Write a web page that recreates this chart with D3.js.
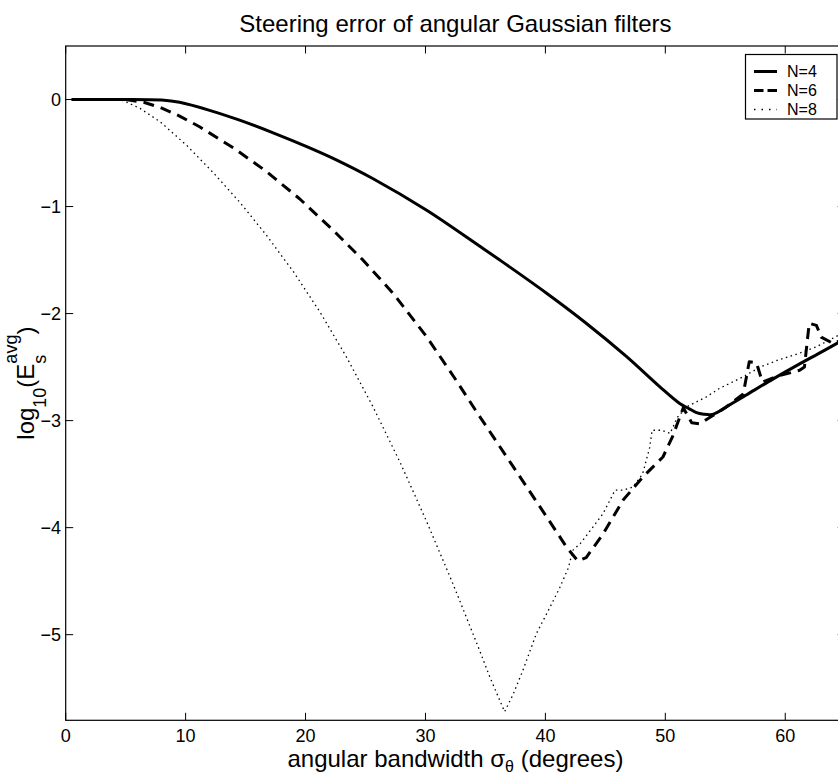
<!DOCTYPE html>
<html><head><meta charset="utf-8">
<script src="https://cdn.jsdelivr.net/npm/d3@7"></script>
<style>
body{margin:0;background:#fff;}
svg{display:block;}
text{font-family:"Liberation Sans",Arial,Helvetica,sans-serif;fill:#000;}
</style>
</head><body>
<svg id="chart" width="838" height="777"></svg>
<script>
// ---- data ----
const titleText = "Steering error of angular Gaussian filters";
const xTicks = [0, 10, 20, 30, 40, 50, 60];
const yTicks = [-5, -4, -3, -2, -1, 0];
const seriesNames = ["N=4", "N=6", "N=8"];

const xN4 = [0.5, 4, 8, 9.5, 12, 14.5, 17.3, 20.1, 22.3, 25.6, 30.1, 34.5, 36.2, 40.1, 43.4, 46.75, 49.5, 51.2, 52.0, 52.6, 53.2, 53.8, 54.3, 55.1, 56.75, 59.0, 61.2, 63.0, 65];
const yN4 = [0, 0, -0.005, -0.026, -0.101, -0.193, -0.311, -0.440, -0.550, -0.738, -1.035, -1.369, -1.50, -1.81, -2.09, -2.40, -2.68, -2.84, -2.89, -2.925, -2.94, -2.945, -2.925, -2.87, -2.76, -2.61, -2.47, -2.36, -2.235];

const xN6 = [0.5, 5.0, 6.5, 7.9, 9.5, 11.2, 14.0, 16.7, 19.5, 22.3, 24.8, 27.3, 30.1, 32.4, 34.3, 37.3, 40.1, 41.75, 42.7, 43.4, 44.8, 46.5, 48.1, 49.8, 50.6, 51.2, 51.5, 52.2, 52.9, 53.7, 55.0, 56.5, 57.0, 57.6, 58.1, 59.5, 61.2, 61.6, 62.0, 62.6, 63.0, 64.0, 65];
const yN6 = [0, 0, -0.026, -0.075, -0.155, -0.257, -0.453, -0.669, -0.927, -1.221, -1.501, -1.811, -2.217, -2.597, -2.924, -3.428, -3.898, -4.18, -4.31, -4.28, -4.06, -3.74, -3.53, -3.34, -3.15, -2.97, -2.88, -3.02, -3.03, -2.97, -2.88, -2.75, -2.45, -2.46, -2.64, -2.58, -2.53, -2.50, -2.09, -2.11, -2.22, -2.28, -2.23];

const xN8 = [0.5, 3.5, 4.8, 6.2, 7.9, 10.1, 12.3, 14.5, 16.7, 19.0, 21.2, 23.4, 25.6, 27.9, 30.1, 32.3, 34.4, 35.4, 36.6, 37.3, 38.1, 39.25, 40.4, 41.2, 41.9, 42.3, 42.9, 44.0, 44.8, 45.4, 45.8, 46.5, 47.3, 48.1, 48.7, 48.9, 49.7, 50.4, 51.0, 51.8, 53.4, 54.5, 56.5, 57.9, 59.5, 61.2, 62.6, 65];
const yN8 = [0, 0, -0.01, -0.083, -0.21, -0.43, -0.683, -0.958, -1.262, -1.611, -1.985, -2.403, -2.865, -3.394, -3.944, -4.527, -5.115, -5.405, -5.72, -5.56, -5.34, -4.99, -4.74, -4.56, -4.38, -4.21, -4.15, -3.99, -3.87, -3.74, -3.65, -3.65, -3.62, -3.50, -3.25, -3.09, -3.09, -3.12, -2.97, -2.87, -2.78, -2.70, -2.59, -2.50, -2.43, -2.37, -2.31, -2.17];

// ---- layout ----
const W = 838, H = 777;
const L = 65.7, R = 845.2, T = 46, B = 720.3;
const svg = d3.select("#chart");
svg.append("rect").attr("width", W).attr("height", H).attr("fill", "#fff");

const x = d3.scaleLinear().domain([0, 65]).range([L, R]);
const y = d3.scaleLinear().domain([-5.8, 0.5]).range([B, T]);

svg.append("clipPath").attr("id", "clip").append("rect")
  .attr("x", L).attr("y", T).attr("width", R - L).attr("height", B - T);

// frame
svg.append("rect").attr("x", L).attr("y", T).attr("width", R - L).attr("height", B - T)
  .attr("fill", "none").attr("stroke", "#000").attr("stroke-width", 1.2);

// ticks
const tickLen = 7.5;
const tg = svg.append("g").attr("stroke", "#000").attr("stroke-width", 1);
xTicks.forEach(t => {
  tg.append("line").attr("x1", x(t)).attr("x2", x(t)).attr("y1", B).attr("y2", B - tickLen);
  tg.append("line").attr("x1", x(t)).attr("x2", x(t)).attr("y1", T).attr("y2", T + tickLen);
});
yTicks.forEach(t => {
  tg.append("line").attr("x1", L).attr("x2", L + tickLen).attr("y1", y(t)).attr("y2", y(t));
  tg.append("line").attr("x1", R).attr("x2", R - tickLen).attr("y1", y(t)).attr("y2", y(t));
});
const fmt = d3.format("");
svg.append("g").selectAll("text").data(xTicks).join("text")
  .attr("x", d => x(d)).attr("y", 742).attr("text-anchor", "middle")
  .style("font-size", "18px").text(d => fmt(d));
svg.append("g").selectAll("text").data(yTicks).join("text")
  .attr("x", 61).attr("y", d => y(d)).attr("dy", "0.36em").attr("text-anchor", "end")
  .style("font-size", "18px").text(d => fmt(d).replace("-", "\u2212"));

// title
svg.append("text").attr("x", (L + R) / 2).attr("y", 32).attr("text-anchor", "middle")
  .style("font-size", "24px").text(titleText);

// rich label helper
function rich(parent, parts) {
  const inner = parent.append("g");
  let cx = 0;
  parts.forEach(p => {
    if (p.stack) {
      let maxW = 0;
      p.stack.forEach(q => {
        const t = inner.append("text").attr("x", cx).attr("y", q.dy).style("font-size", q.size + "px").text(q.t);
        maxW = Math.max(maxW, t.node().getComputedTextLength());
      });
      cx += maxW;
    } else {
      const t = inner.append("text").attr("x", cx).attr("y", p.dy || 0).style("font-size", p.size + "px")
        .style("white-space", "pre").text(p.t);
      cx += t.node().getComputedTextLength();
    }
  });
  inner.attr("transform", `translate(${-cx / 2},0)`);
}

// x label
rich(svg.append("g").attr("transform", `translate(${(L + R) / 2},767)`), [
  {t: "angular bandwidth \u03C3", size: 24},
  {t: "\u03B8", size: 16, dy: 5},
  {t: " (degrees)", size: 24}
]);
// y label
rich(svg.append("g").attr("transform", `translate(34,${(T + B) / 2}) rotate(-90)`), [
  {t: "log", size: 24},
  {t: "10", size: 18, dy: 12},
  {t: "(E", size: 24},
  {stack: [{t: "s", size: 18, dy: 12}, {t: "avg", size: 18, dy: -17}]},
  {t: ")", size: 24}
]);

// lines
const plot = svg.append("g").attr("clip-path", "url(#clip)");
const smooth = d3.line().x(d => x(d[0])).y(d => y(d[1])).curve(d3.curveCatmullRom.alpha(0.5));
const straight = d3.line().x(d => x(d[0])).y(d => y(d[1])).curve(d3.curveLinear);
const series = [
  {xs: xN8, ys: yN8, w: 1.3, dash: "1.5,3.5", color: "#000", gen: straight},
  {xs: xN6, ys: yN6, w: 3, dash: "11,7", color: "#000", gen: straight},
  {xs: xN4, ys: yN4, w: 3, dash: null, color: "#000", gen: smooth}
];
series.forEach(s => {
  plot.append("path").datum(s.xs.map((v, i) => [v, s.ys[i]]))
    .attr("d", s.gen).attr("fill", "none").attr("stroke", s.color)
    .attr("stroke-width", s.w).attr("stroke-dasharray", s.dash)
    .attr("stroke-linejoin", "round");
});

// legend
const lg = svg.append("g");
lg.append("rect").attr("x", 745.5).attr("y", 54.5).attr("width", 91.5).attr("height", 64.5)
  .attr("fill", "#fff").attr("stroke", "#000").attr("stroke-width", 1.2);
const legStyles = [
  {w: 3, dash: null}, {w: 3, dash: "9.5,4"}, {w: 1.3, dash: "1.5,6"}
];
const legY = [71.5, 90.5, 109.5];
seriesNames.forEach((n, i) => {
  lg.append("line").attr("x1", 754).attr("x2", 777).attr("y1", legY[i]).attr("y2", legY[i])
    .attr("stroke", "#000").attr("stroke-width", legStyles[i].w).attr("stroke-dasharray", legStyles[i].dash);
  lg.append("text").attr("x", 787).attr("y", legY[i]).attr("dy", "0.36em")
    .style("font-size", "16px").text(n);
});
</script>
</body></html>
